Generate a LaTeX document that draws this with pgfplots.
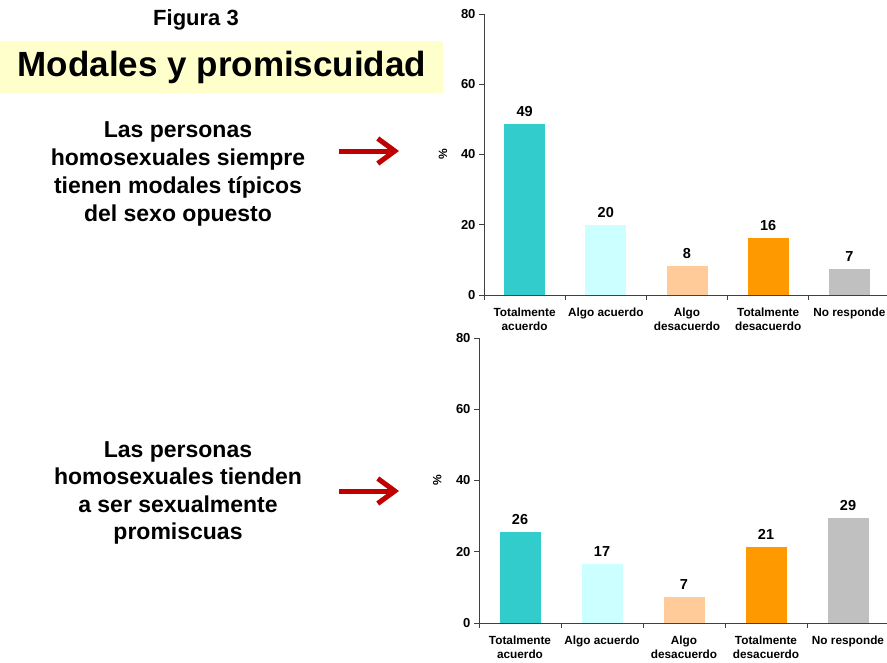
\documentclass[border=0pt]{standalone}
\usepackage{pgfplots}
\pgfplotsset{compat=1.18}
\usepackage{fontspec}
\setmainfont{Liberation Sans}
\usetikzlibrary{arrows.meta}
\definecolor{cA}{HTML}{33CCCC}
\definecolor{cB}{HTML}{CCFFFF}
\definecolor{cC}{HTML}{FFCC99}
\definecolor{cD}{HTML}{FF9900}
\definecolor{cE}{HTML}{C0C0C0}
\definecolor{ybg}{HTML}{FFFFCC}
\definecolor{ared}{HTML}{C00000}
\pgfplotsset{
  mychart/.style={
    scale only axis,
    anchor=south west,
    xmin=-0.5, xmax=4.5, ymin=0, ymax=80,
    ytick={0,20,40,60,80},
    axis x line*=bottom, axis y line*=left,
    axis line style={black!75, line width=0.9pt},
    xtick={0,1,2,3,4},
    xticklabels={{Totalmente\\acuerdo},{Algo acuerdo},{Algo\\desacuerdo},{Totalmente\\desacuerdo},{No responde}},
    major x tick style={draw=none},
    minor xtick={-0.5,0.5,1.5,2.5,3.5,4.5},
    minor x tick style={black!75, line width=0.9pt},
    minor tick length=5pt,
    major tick length=5pt,
    y tick style={black!75, line width=0.9pt},
    tick align=outside,
    xticklabel style={align=center, font=\bfseries\fontsize{11.8}{14.5}\selectfont, yshift=-4pt},
    yticklabel style={font=\bfseries\fontsize{13}{15}\selectfont},
    /pgf/number format/assume math mode=true,
    ylabel={\%},
    ylabel style={font=\bfseries\fontsize{12}{14}\selectfont},
    ybar, bar shift=0pt,
    nodes near coords={\pgfmathprintnumber[fixed,precision=0]{\pgfplotspointmeta}},
    every node near coord/.append style={font=\bfseries\fontsize{14.5}{16}\selectfont, black, yshift=4pt},
  }
}
\begin{document}
\begin{tikzpicture}
\useasboundingbox (0pt,0pt) rectangle (887pt,-662pt);
\fill[ybg] (0pt,-41pt) rectangle (443pt,-93pt);
\node[font=\bfseries\fontsize{22}{26}\selectfont, anchor=base] at (196pt,-25pt) {Figura 3};
\node[font=\bfseries\fontsize{35}{40}\selectfont, anchor=base] at (222pt,-76pt) {Modales y promiscuidad};
\tikzset{bt/.style={font=\bfseries\fontsize{23}{28}\selectfont, anchor=base}}
\node[bt] at (178pt,-137pt) {Las personas};
\node[bt] at (178pt,-165pt) {homosexuales siempre};
\node[bt] at (178pt,-193pt) {tienen modales típicos};
\node[bt] at (178pt,-221pt) {del sexo opuesto};
\node[bt] at (178pt,-457pt) {Las personas};
\node[bt] at (178pt,-484pt) {homosexuales tienden};
\node[bt] at (178pt,-512pt) {a ser sexualmente};
\node[bt] at (178pt,-539pt) {promiscuas};
\draw[ared, line width=5pt, -{Straight Barb[length=17pt, width=25pt]}] (339pt,-151pt) -- (399pt,-151pt);
\draw[ared, line width=5pt, -{Straight Barb[length=17pt, width=25pt]}] (339pt,-491pt) -- (399pt,-491pt);

\begin{axis}[mychart, at={(484pt,-295pt)}, width=406pt, height=281pt, bar width=41pt,
  ylabel style={at={(axis description cs:-0.101,0.5)}, anchor=center}]
\addplot[fill=cA, draw=none] coordinates {(0,48.7)};
\addplot[fill=cB, draw=none] coordinates {(1,19.8)};
\addplot[fill=cC, draw=none] coordinates {(2,8.2)};
\addplot[fill=cD, draw=none] coordinates {(3,16.2)};
\addplot[fill=cE, draw=none] coordinates {(4,7.4)};
\end{axis}

\begin{axis}[mychart, at={(479pt,-623pt)}, width=410pt, height=285pt, bar width=41pt,
  ylabel style={at={(axis description cs:-0.102,0.5)}, anchor=center}]
\addplot[fill=cA, draw=none] coordinates {(0,25.6)};
\addplot[fill=cB, draw=none] coordinates {(1,16.6)};
\addplot[fill=cC, draw=none] coordinates {(2,7.4)};
\addplot[fill=cD, draw=none] coordinates {(3,21.3)};
\addplot[fill=cE, draw=none] coordinates {(4,29.4)};
\end{axis}
\end{tikzpicture}
\end{document}
